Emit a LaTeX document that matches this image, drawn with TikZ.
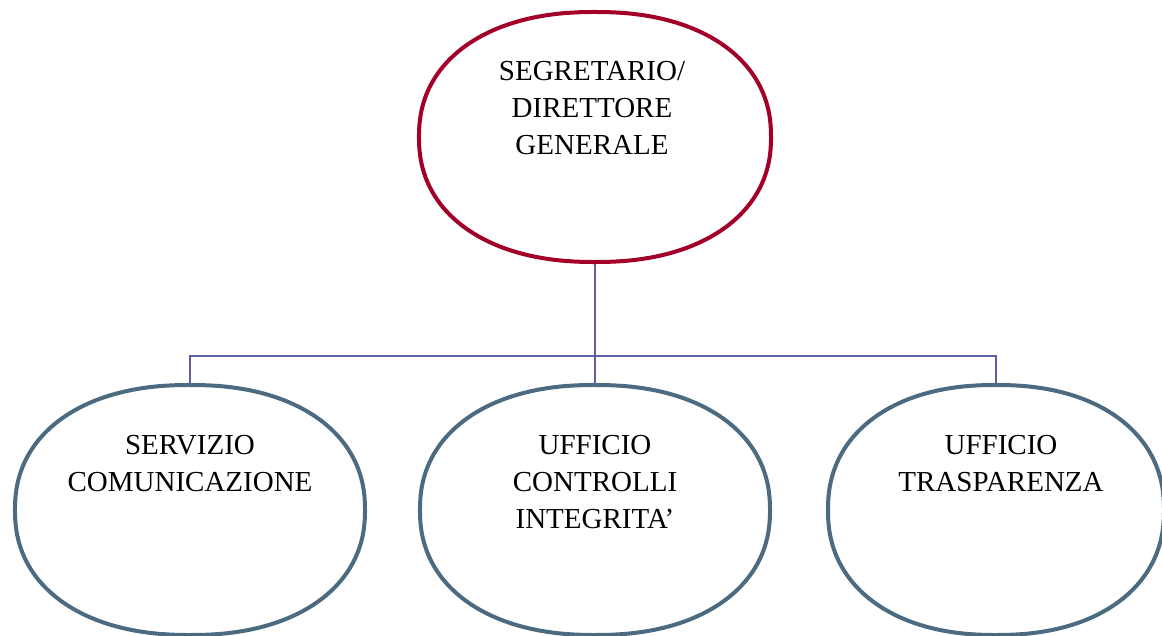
\documentclass[tikz,border=0pt]{standalone}
\usepackage{fontspec}
\setmainfont{Liberation Serif}
\usetikzlibrary{calc}
\definecolor{topred}{RGB}{163,0,41}
\definecolor{slate}{RGB}{76,106,128}
\definecolor{connc}{RGB}{96,96,160}
\tikzset{
  box/.style={minimum width=352pt, minimum height=250pt, inner sep=0pt, draw=none},
  lbl/.style={font={\fontsize{29}{37}\selectfont}, align=center, inner sep=0pt, anchor=north},
  conn/.style={draw=connc, line width=2pt},
  outlineA/.style={draw=topred, line width=4pt, line join=round},
  outlineB/.style={draw=slate, line width=4pt, line join=round}
}
% superellipse outline round a named node: #1 node, #2 style, #3 half-width
\newcommand\blobline[3]{%
  \draw[#2, shift={(#1.center)}] plot[domain=0.5:359.5, samples=240, variable=\t]
    ({#3*sign(cos(\t))*pow(abs(cos(\t)),0.9)}, {125*sign(sin(\t))*pow(abs(sin(\t)),0.9)}) -- cycle;}
\begin{document}
\begin{tikzpicture}[x=1pt,y=-1pt]
\useasboundingbox (0,0) rectangle (1162,636);
\clip (0,0) rectangle (1162,636);
\fill[white] (0,0) rectangle (1162,636);
\node[box] (top) at (595,137) {};
\node[box] (svc) at (190,510) {};
\node[box] (ctrl) at (595,510) {};
\node[box, minimum width=340pt] (trasp) at (996,510) {};
\coordinate (bus) at (595,356);
\draw[conn] (top.south) -- (ctrl.north);
\draw[conn] (svc.north) |- (bus) -| (trasp.north);
\blobline{top}{outlineA}{176}
\blobline{svc}{outlineB}{175}
\blobline{ctrl}{outlineB}{175}
\blobline{trasp}{outlineB}{168}
\node[lbl] (ltop) at ([yshift=-49pt,xshift=-3pt]top.north) {SEGRETARIO/\\DIRETTORE\\GENERALE};
\node[lbl] (lsvc) at ([yshift=-50pt]svc.north) {SERVIZIO\\COMUNICAZIONE};
\node[lbl] (lctrl) at ([yshift=-50pt]ctrl.north) {UFFICIO\\CONTROLLI\\INTEGRITA’};
\node[lbl] (ltrasp) at ([yshift=-50pt,xshift=5pt]trasp.north) {UFFICIO\\TRASPARENZA};
\end{tikzpicture}
\end{document}
